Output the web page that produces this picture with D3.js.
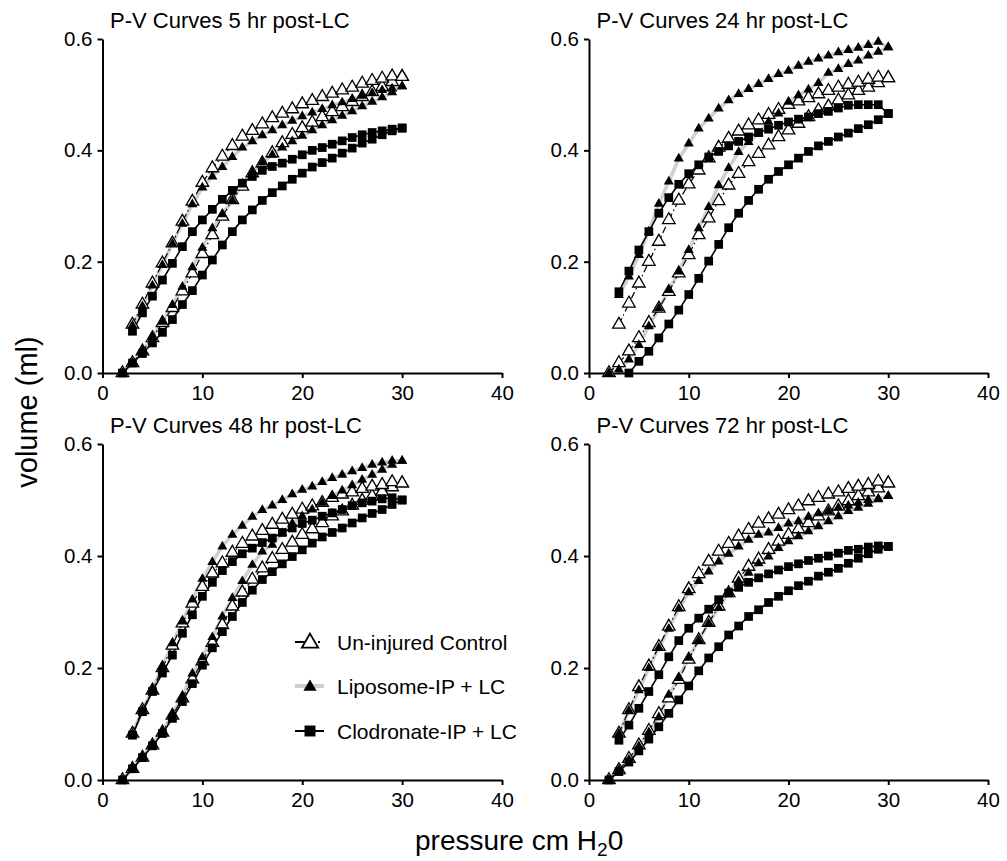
<!DOCTYPE html>
<html>
<head>
<meta charset="utf-8">
<script src="https://cdn.jsdelivr.net/npm/d3@7"></script>
<style>
  body { margin: 0; background: #fff; }
  svg { display: block; font-family: "Liberation Sans", Arial, sans-serif; }
</style>
</head>
<body>
<div id="chart"></div>
<script>
// pressure steps (cm H2O): inflation 2..30, deflation 3..30
const pressureInf = [2,3,4,5,6,7,8,9,10,11,12,13,14,15,16,17,18,19,20,21,22,23,24,25,26,27,28,29,30];
const pressureDef = [3,4,5,6,7,8,9,10,11,12,13,14,15,16,17,18,19,20,21,22,23,24,25,26,27,28,29,30];

// 5 hr
const ctrl5Inf = [0,.018,.039,.063,.09,.117,.147,.179,.214,.248,.281,.311,.335,.359,.377,.395,.413,.428,.44,.45,.46,.469,.478,.487,.496,.505,.514,.523,.532];
const ctrl5Def = [.087,.123,.161,.197,.233,.272,.308,.342,.368,.389,.408,.425,.435,.447,.458,.466,.474,.483,.489,.496,.502,.508,.513,.52,.525,.529,.533,.532];
const lipo5Inf = [0,.018,.04,.065,.092,.122,.155,.19,.225,.26,.285,.31,.34,.36,.378,.392,.405,.416,.426,.436,.445,.454,.462,.47,.479,.487,.495,.504,.515];
const lipo5Def = [.085,.12,.157,.194,.232,.268,.303,.333,.353,.37,.388,.405,.416,.427,.436,.445,.453,.461,.468,.474,.481,.486,.492,.498,.503,.508,.511,.515];
const clod5Inf = [0,.018,.035,.054,.073,.096,.123,.148,.176,.203,.23,.254,.275,.293,.31,.324,.336,.348,.359,.37,.378,.386,.395,.404,.413,.42,.428,.435,.44];
const clod5Def = [.075,.108,.138,.167,.197,.227,.254,.275,.294,.312,.328,.341,.353,.364,.371,.377,.384,.392,.40,.405,.411,.417,.423,.428,.432,.435,.438,.44];

// 24 hr
const ctrl24Inf = [0,.018,.039,.063,.09,.116,.146,.179,.212,.248,.278,.309,.337,.358,.379,.394,.409,.424,.436,.448,.46,.472,.479,.49,.499,.507,.513,.521,.53];
const ctrl24Def = [.087,.125,.161,.2,.236,.275,.31,.339,.364,.386,.405,.421,.434,.445,.454,.464,.473,.482,.488,.494,.501,.507,.513,.518,.522,.527,.531,.53];
const lipo24Inf = [0,.006,.024,.05,.084,.116,.149,.182,.221,.26,.298,.337,.368,.397,.415,.43,.451,.466,.487,.499,.509,.521,.539,.546,.555,.561,.57,.577,.585];
const lipo24Def = [.14,.173,.212,.254,.304,.344,.385,.412,.439,.457,.475,.49,.501,.51,.519,.528,.537,.543,.552,.559,.565,.57,.576,.58,.584,.589,.595,.585];
const clod24Inf = [null,null,0,.021,.039,.063,.088,.113,.141,.17,.201,.231,.261,.287,.31,.33,.348,.362,.374,.386,.398,.408,.416,.424,.431,.439,.446,.455,.466];
const clod24Def = [.146,.183,.221,.254,.287,.315,.339,.358,.374,.388,.398,.408,.416,.424,.432,.438,.445,.451,.456,.46,.466,.47,.476,.481,.482,.482,.482,.466];

// 48 hr
const ctrl48Inf = [0,.02,.04,.062,.085,.115,.146,.18,.212,.245,.277,.31,.335,.358,.378,.395,.411,.424,.438,.448,.459,.471,.48,.49,.499,.507,.515,.523,.53];
const ctrl48Def = [.083,.125,.16,.2,.24,.28,.315,.345,.369,.387,.406,.422,.435,.445,.456,.465,.474,.483,.489,.495,.504,.51,.514,.52,.524,.527,.532,.53];
const lipo48Inf = [0,.021,.041,.063,.086,.118,.149,.19,.219,.255,.292,.325,.355,.384,.408,.42,.441,.458,.471,.483,.495,.507,.517,.526,.536,.545,.554,.563,.57];
const lipo48Def = [.083,.125,.161,.203,.244,.283,.322,.359,.389,.417,.438,.454,.47,.482,.49,.5,.51,.518,.524,.532,.539,.545,.551,.557,.563,.567,.57,.57];
const clod48Inf = [0,.02,.04,.061,.083,.11,.14,.172,.205,.236,.265,.292,.317,.339,.358,.372,.386,.399,.411,.423,.434,.442,.45,.459,.468,.476,.483,.492,.5];
const clod48Def = [.08,.122,.158,.191,.223,.262,.295,.328,.353,.374,.39,.404,.414,.424,.432,.442,.45,.458,.464,.471,.477,.483,.49,.495,.498,.502,.504,.5];

// 72 hr
const ctrl72Inf = [0,.018,.038,.062,.088,.118,.146,.179,.215,.25,.281,.31,.334,.36,.381,.394,.411,.426,.438,.448,.459,.471,.48,.489,.498,.507,.514,.521,.53];
const ctrl72Def = [.083,.125,.166,.203,.238,.274,.309,.341,.368,.39,.408,.422,.435,.447,.458,.466,.474,.482,.489,.498,.504,.51,.514,.52,.524,.527,.533,.53];
const lipo72Inf = [0,.018,.036,.06,.085,.112,.152,.182,.218,.25,.28,.307,.335,.355,.37,.387,.399,.414,.426,.435,.444,.453,.462,.471,.48,.486,.493,.501,.507];
const lipo72Def = [.083,.124,.16,.2,.236,.27,.306,.335,.355,.372,.39,.404,.417,.429,.438,.442,.45,.458,.462,.47,.476,.48,.486,.49,.495,.5,.502,.507];
const clod72Inf = [0,.015,.032,.052,.073,.095,.119,.143,.168,.195,.218,.238,.259,.275,.292,.304,.317,.328,.338,.347,.355,.364,.371,.378,.387,.396,.404,.412,.417];
const clod72Def = [.071,.098,.128,.158,.188,.22,.249,.271,.289,.305,.322,.334,.344,.353,.361,.368,.375,.381,.386,.392,.396,.4,.405,.41,.412,.416,.418,.417];

const panelTitles = ["P-V Curves 5 hr post-LC", "P-V Curves 24 hr post-LC", "P-V Curves 48 hr post-LC", "P-V Curves 72 hr post-LC"];
const groupNames = ["Un-injured Control", "Liposome-IP + LC", "Clodronate-IP + LC"];
const xTicks = [0, 10, 20, 30, 40];
const yTicks = [0, 0.2, 0.4, 0.6];

const panelData = [
  { control: [ctrl5Inf, ctrl5Def], lipo: [lipo5Inf, lipo5Def], clod: [clod5Inf, clod5Def] },
  { control: [ctrl24Inf, ctrl24Def], lipo: [lipo24Inf, lipo24Def], clod: [clod24Inf, clod24Def] },
  { control: [ctrl48Inf, ctrl48Def], lipo: [lipo48Inf, lipo48Def], clod: [clod48Inf, clod48Def] },
  { control: [ctrl72Inf, ctrl72Def], lipo: [lipo72Inf, lipo72Def], clod: [clod72Inf, clod72Def] }
];

const width = 1007, height = 861;

// panel boxes in pixels: left/right columns, top/bottom rows
const cols = [[102.5, 502], [589, 988]];
const rows = [[373, 39], [780, 444]];

const svg = d3.select("#chart").append("svg")
  .attr("width", width)
  .attr("height", height);

svg.append("rect").attr("width", width).attr("height", height).attr("fill", "#fff");

// styles for each group
const styles = {
  control: { stroke: "#000", width: 1.2, dash: "7,3,1.5,3", symbol: d3.symbolTriangle, size: 68, fill: "#fff", sw: 1.3 },
  lipo:    { stroke: "#cfcfcf", width: 3.5, dash: null, symbol: d3.symbolTriangle, size: 44, fill: "#000", sw: 0 },
  clod:    { stroke: "#000", width: 1.6, dash: null, symbol: d3.symbolSquare, size: 76, fill: "#000", sw: 0 }
};

function toPoints(vals, press) {
  return press.map((p, i) => ({ p: p, v: vals[i] })).filter(d => d.v != null);
}

panelData.forEach((pd, k) => {
  const col = cols[k % 2], row = rows[Math.floor(k / 2)];
  const x = d3.scaleLinear().domain([0, 40]).range(col);
  const y = d3.scaleLinear().domain([0, 0.6]).range(row);
  const g = svg.append("g");

  // title
  g.append("text")
    .attr("x", col[0] + 7.5)
    .attr("y", row[1] - 11)
    .attr("font-size", 22)
    .text(panelTitles[k]);

  // axes
  const yAxis = g.append("g")
    .attr("transform", `translate(${col[0]},0)`)
    .call(d3.axisLeft(y).tickValues(yTicks).tickFormat(d3.format(".1f")).tickSize(5).tickSizeOuter(0).tickPadding(5));
  const xAxis = g.append("g")
    .attr("transform", `translate(0,${row[0]})`)
    .call(d3.axisBottom(x).tickValues(xTicks).tickSize(5).tickSizeOuter(0).tickPadding(7));
  [yAxis, xAxis].forEach(a => {
    a.select(".domain").attr("stroke", "#000").attr("stroke-width", 2);
    a.selectAll(".tick line").attr("stroke", "#000").attr("stroke-width", 2);
    a.selectAll(".tick text").attr("fill", "#000").attr("font-size", 20.5)
      .attr("font-family", "Liberation Sans, Arial, sans-serif");
  });

  const line = d3.line().x(d => x(d.p)).y(d => y(d.v));

  // lines (gray liposome underneath)
  ["lipo", "control", "clod"].forEach(key => {
    const s = styles[key];
    const [inf, def] = pd[key];
    [toPoints(inf, pressureInf), toPoints(def, pressureDef)].forEach(pts => {
      g.append("path")
        .datum(pts)
        .attr("d", line)
        .attr("fill", "none")
        .attr("stroke", s.stroke)
        .attr("stroke-width", s.width)
        .attr("stroke-dasharray", s.dash);
    });
  });

  // markers
  ["control", "lipo", "clod"].forEach(key => {
    const s = styles[key];
    const [inf, def] = pd[key];
    const pts = toPoints(inf, pressureInf).concat(toPoints(def, pressureDef));
    g.selectAll(null)
      .data(pts)
      .enter().append("path")
      .attr("d", d3.symbol(s.symbol, s.size))
      .attr("transform", d => `translate(${x(d.p)},${y(d.v)})`)
      .attr("fill", s.fill)
      .attr("stroke", "#000")
      .attr("stroke-width", s.sw);
  });
});

// legend inside the 48 hr panel
const legendRows = [
  { key: "control", name: groupNames[0], y: 642 },
  { key: "lipo", name: groupNames[1], y: 686 },
  { key: "clod", name: groupNames[2], y: 731 }
];
const legend = svg.append("g");
legendRows.forEach(r => {
  const s = styles[r.key];
  legend.append("line")
    .attr("x1", 295).attr("x2", 324)
    .attr("y1", r.y).attr("y2", r.y)
    .attr("stroke", s.stroke)
    .attr("stroke-width", r.key === "lipo" ? 4 : 2)
    .attr("stroke-dasharray", r.key === "control" ? "17,6,2,20" : null);
  legend.append("path")
    .attr("d", d3.symbol(s.symbol, r.key === "control" ? 115 : (r.key === "lipo" ? 75 : 120)))
    .attr("transform", `translate(310,${r.y + (r.key === "clod" ? 0 : 1)})`)
    .attr("fill", s.fill)
    .attr("stroke", "#000")
    .attr("stroke-width", r.key === "control" ? 1.8 : 0);
  legend.append("text")
    .attr("x", 337)
    .attr("y", r.y + 8)
    .attr("font-size", 21)
    .text(r.name);
});

// axis titles
svg.append("text")
  .attr("transform", "translate(37,412) rotate(-90)")
  .attr("text-anchor", "middle")
  .attr("font-size", 29)
  .text("volume (ml)");

const xt = svg.append("text")
  .attr("x", 415)
  .attr("y", 850)
  .attr("font-size", 28);
xt.append("tspan").text("pressure cm H");
xt.append("tspan").attr("font-size", 19).attr("dy", 6).text("2");
xt.append("tspan").attr("dy", -6).text("0");
</script>
</body>
</html>
